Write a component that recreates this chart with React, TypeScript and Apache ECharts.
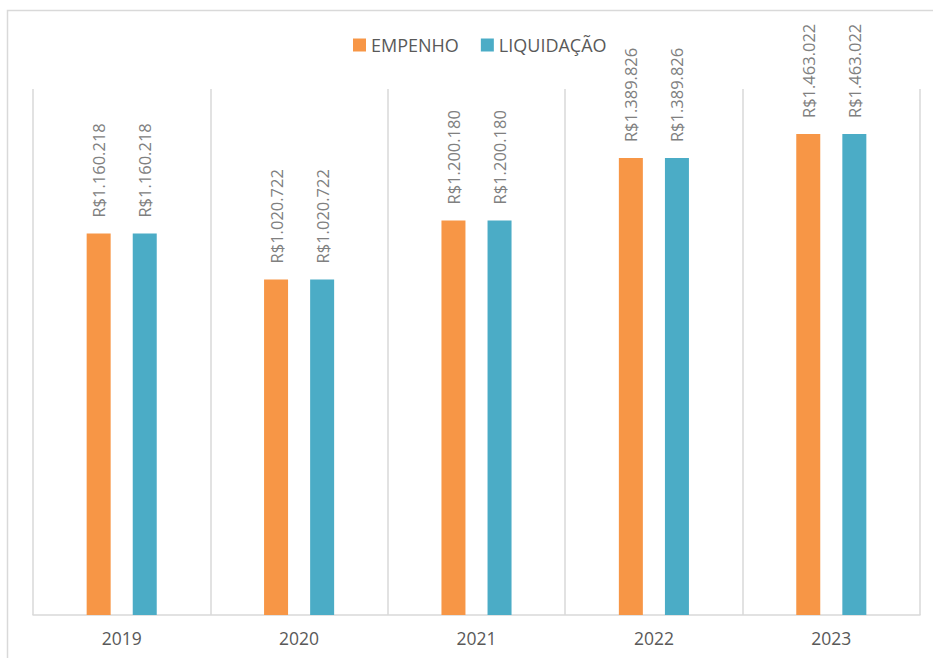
import React, { useEffect, useRef } from "react";
import * as echarts from "echarts";

const categories = ["2019", "2020", "2021", "2022", "2023"];
const empenho = [1160218, 1020722, 1200180, 1389826, 1463022];
const liquidacao = [1160218, 1020722, 1200180, 1389826, 1463022];
const seriesNames = ["EMPENHO", "LIQUIDAÇÃO"];
const colors = ["#F79646", "#4BACC6"];

const fmt = (v: number) =>
  "R$" + String(v).replace(/\B(?=(\d{3})+(?!\d))/g, ".");

export default function App() {
  const ref = useRef<HTMLDivElement>(null);
  useEffect(() => {
    if (!ref.current) return;
    const chart = echarts.init(ref.current, null, { renderer: "svg" });
    const label = {
      show: true,
      position: "top" as const,
      rotate: 90,
      align: "left" as const,
      verticalAlign: "middle" as const,
      distance: 16,
      color: "#808080",
      fontSize: 16.5,
      fontFamily: "Open Sans",
      formatter: (p: any) => fmt(p.value),
    };
    chart.setOption({
      animation: false,
      backgroundColor: "#ffffff",
      legend: {
        top: 31,
        left: 348,
        itemWidth: 13,
        itemHeight: 13,
        itemGap: 22,
        itemStyle: { borderWidth: 0 },
        icon: "rect",
        textStyle: { color: "#595959", fontSize: 18, fontFamily: "Open Sans" },
        data: seriesNames,
      },
      grid: { left: 33, right: 13, top: 89, bottom: 43 },
      xAxis: {
        type: "category",
        data: categories,
        axisLine: { show: true, lineStyle: { color: "#d9d9d9", width: 1.5 } },
        axisTick: { show: false },
        splitLine: { show: true, lineStyle: { color: "#d9d9d9", width: 1.5 } },
        axisLabel: {
          color: "#595959",
          fontSize: 17.5,
          fontFamily: "Open Sans",
          margin: 14,
        },
      },
      yAxis: {
        type: "value",
        min: 0,
        max: 1600000,
        show: false,
        splitLine: { show: false },
      },
      series: [
        {
          name: seriesNames[0],
          type: "bar",
          data: empenho,
          barWidth: 24,
          barGap: "92%",
          itemStyle: { color: colors[0] },
          label,
        },
        {
          name: seriesNames[1],
          type: "bar",
          data: liquidacao,
          barWidth: 24,
          itemStyle: { color: colors[1] },
          label,
        },
      ],
      graphic: [
        {
          type: "rect",
          shape: { x: 7.5, y: 10.5, width: 1000, height: 800 },
          style: { fill: "none", stroke: "#d9d9d9", lineWidth: 1.5 },
          silent: true,
        },
      ],
    });
    return () => chart.dispose();
  }, []);
  return (
    <div
      ref={ref}
      style={{ position: "fixed", left: 0, top: 0, width: 933, height: 658 }}
    />
  );
}
